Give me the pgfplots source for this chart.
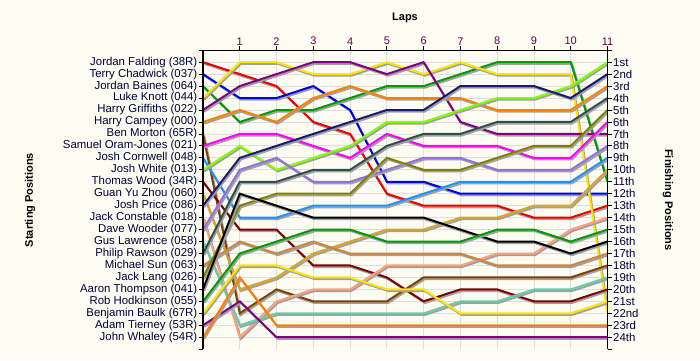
\documentclass[border=0pt]{standalone}
\usepackage{pgfplots}
\pgfplotsset{compat=1.18}
\usepackage{pgfplotstable}
\usepackage{fontspec}
\setmainfont{Liberation Sans}

\definecolor{bgcol}{RGB}{252,252,243}
\definecolor{gridgray}{RGB}{222,222,222}
\definecolor{shadowgray}{RGB}{160,160,160}
\definecolor{ytext}{RGB}{0,0,60}
\definecolor{xtext}{RGB}{100,0,70}
\definecolor{c1}{RGB}{240,0,0}
\definecolor{c2}{RGB}{0,0,230}
\definecolor{c3}{RGB}{0,155,0}
\definecolor{c4}{RGB}{255,230,0}
\definecolor{c5}{RGB}{128,0,128}
\definecolor{c6}{RGB}{255,128,0}
\definecolor{c7}{RGB}{128,64,0}
\definecolor{c8}{RGB}{255,0,255}
\definecolor{c9}{RGB}{30,144,255}
\definecolor{c10}{RGB}{128,255,0}
\definecolor{c11}{RGB}{128,0,0}
\definecolor{c12}{RGB}{218,165,32}
\definecolor{c13}{RGB}{25,25,112}
\definecolor{c14}{RGB}{255,160,122}
\definecolor{c15}{RGB}{147,112,219}
\definecolor{c16}{RGB}{102,205,170}
\definecolor{c17}{RGB}{47,79,79}
\definecolor{c18}{RGB}{205,133,63}
\definecolor{c19}{RGB}{128,128,0}
\definecolor{c20}{RGB}{0,0,0}
\definecolor{c21}{RGB}{0,155,0}
\definecolor{c22}{RGB}{255,230,0}
\definecolor{c23}{RGB}{128,0,128}
\definecolor{c24}{RGB}{255,128,0}

\pgfplotstableread{
lap s1 s2 s3 s4 s5 s6 s7 s8 s9 s10 s11 s12 s13 s14 s15 s16 s17 s18 s19 s20 s21 s22 s23 s24
0  1  2  3  4  5  6  7  8  9 10 11 12 13 14 15 16 17 18 19 20 21 22 23 24
1  2  4  6  1  3  5 22  7 14  8 15 20  9 24 10 23 11 16 13 12 17 18 21 19
2  3  4  5  1  2  6 20  7 14 10 15 19  8 21  9 22 11 17 12 13 16 18 24 23
3  6  3  5  2  1  4 21  8 13  9 18 17  7 20 11 22 10 16 12 14 15 19 24 23
4  7  5  4  2  1  3 21  9 13  8 18 16  6 20 11 22 10 17 12 14 15 19 24 23
5 12 11  3  1  2  4 21  7 13  6 19 15  5 18 10 22  8 17  9 14 16 20 24 23
6 13 11  3  2  1  4 19  8 12  6 21 15  5 18  9 22  7 17 10 14 16 20 24 23
7 13 12  2  1  6  4 19  8 11  5 20 14  3 18  9 21  7 17 10 15 16 22 24 23
8 13 12  1  2  7  5 19  8 11  4 20 14  3 17 10 21  6 18  9 16 15 22 24 23
9 14 12  1  2  7  5 19  9 11  4 21 13  3 17 10 20  6 18  8 16 15 22 24 23
10 14 12  1  2  7  5 19  9 11  3 21 13  4 15 10 20  6 18  8 17 16 22 24 23
11 13 12 11 22  7  3 18  6  9  1 20 10  2 14  8 19  4 17  5 16 15 21 24 23
}\laps

\begin{document}
\begin{tikzpicture}[x=1bp,y=1bp]
\fill[bgcol] (0,0) rectangle (700,360);
\path[use as bounding box] (0,0) rectangle (700,360);
\begin{axis}[
  name=ax,
  at={(203bp,10.8bp)}, anchor=south west,
  scale only axis, width=404.5bp, height=299bp,
  xmin=0, xmax=11, ymin=0, ymax=25,
  y dir=reverse,
  axis line style={draw=none},
  xtick={1,...,11},
  ytick={1,...,24},
  xtick pos=right, xticklabel pos=right,
  ytick pos=left, yticklabel pos=left,
  tick align=outside,
  major tick length=4bp,
  tick style={black, line width=0.8bp},
  grid=major,
  grid style={gridgray, line width=0.8bp},
  /pgf/number format/assume math mode=true,
  xticklabel style={font=\fontsize{11bp}{12bp}\selectfont, text=xtext, inner sep=1bp},
  yticklabel style={font=\fontsize{11.4bp}{12bp}\selectfont, text=ytext, inner sep=1.5bp},
  yticklabels={Jordan Falding (38R),Terry Chadwick (037),Jordan Baines (064),Luke Knott (044),Harry Griffiths (022),Harry Campey (000),Ben Morton (65R),Samuel Oram-Jones (021),Josh Cornwell (048),Josh White (013),Thomas Wood (34R),Guan Yu Zhou (060),Josh Price (086),Jack Constable (018),Dave Wooder (077),Gus Lawrence (058),Philip Rawson (029),Michael Sun (063),Jack Lang (026),Aaron Thompson (041),Rob Hodkinson (055),Benjamin Baulk (67R),Adam Tierney (53R),John Whaley (54R)},
  every axis plot/.append style={line width=2bp, no markers,
    preaction={draw=shadowgray, line width=2bp, transform canvas={xshift=1.2bp,yshift=-1.6bp}}},
]
\pgfplotsinvokeforeach{1,...,24}{
  \addplot[color=c#1] table[x=lap, y=s#1]{\laps};
}
\end{axis}
\begin{axis}[
  at={(203bp,10.8bp)}, anchor=south west,
  scale only axis, width=404.5bp, height=299bp,
  xmin=0, xmax=11, ymin=0, ymax=25,
  y dir=reverse,
  axis x line=none,
  axis y line*=right,
  axis line style={draw=none},
  ytick={1,...,24},
  tick align=outside,
  major tick length=4bp,
  tick style={black, line width=0.8bp},
  yticklabel style={font=\fontsize{11.4bp}{12bp}\selectfont, text=ytext, inner sep=1.5bp},
  yticklabels={1st,2nd,3rd,4th,5th,6th,7th,8th,9th,10th,11th,12th,13th,14th,15th,16th,17th,18th,19th,20th,21st,22nd,23rd,24th},
]
\addplot[draw=none, forget plot] coordinates {(0,1)};
\end{axis}
\draw[line width=1.2bp, black] (ax.south west) -- (ax.north west) -- (ax.north east) -- (ax.south east);
\draw[line width=0.8bp, black] (ax.south west) -- ++(-4bp,0) (ax.north west) -- ++(-4bp,0);
\draw[line width=0.8bp, black] (ax.south east) -- ++(4bp,0) (ax.north east) -- ++(4bp,0);
\node[font=\bfseries\fontsize{11bp}{12bp}\selectfont] at (405bp,342bp) {Laps};
\node[font=\bfseries\fontsize{11bp}{12bp}\selectfont, rotate=90] at (30bp,160bp) {Starting Positions};
\node[font=\bfseries\fontsize{11bp}{12bp}\selectfont, rotate=-90] at (668bp,160bp) {Finishing Positions};
\end{tikzpicture}
\end{document}
